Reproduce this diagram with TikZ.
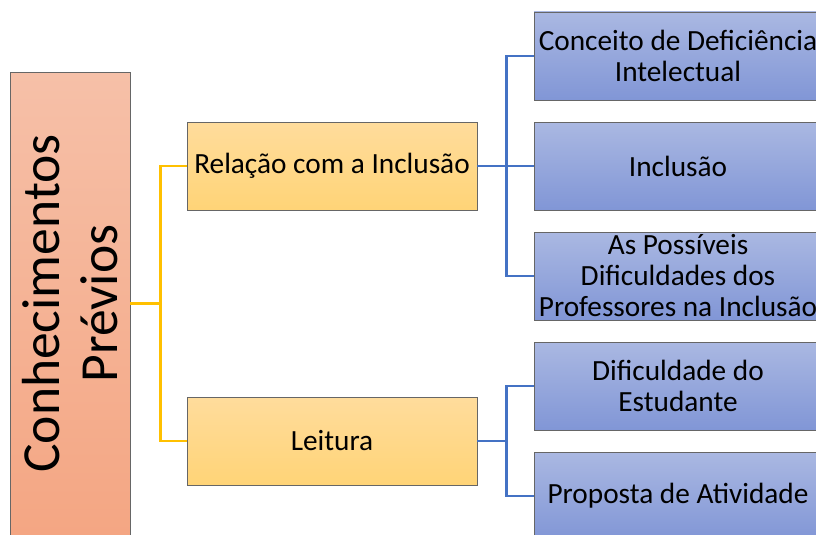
\documentclass[tikz,border=0pt]{standalone}
\usepackage{fontspec}
\setmainfont{Carlito}
\usepackage{tikz}
\usetikzlibrary{calc}
\definecolor{salmontop}{RGB}{246,192,168}
\definecolor{salmonbot}{RGB}{244,166,131}
\definecolor{goldtop}{RGB}{255,220,156}
\definecolor{goldbot}{RGB}{255,212,119}
\definecolor{bluetop}{RGB}{170,184,226}
\definecolor{bluebot}{RGB}{129,150,214}
\definecolor{goldline}{RGB}{255,192,0}
\definecolor{blueline}{RGB}{68,114,196}
\tikzset{
	% three box styles, one per level of the diagram
	root box/.style={draw=black!60,line width=0.9pt,top color=salmontop,bottom color=salmonbot,minimum width=120pt,minimum height=463pt,inner sep=0},
	mid box/.style={draw=black!60,line width=0.9pt,top color=goldtop,bottom color=goldbot,minimum width=290pt,minimum height=88pt,inner sep=0,font=\fontsize{29.3}{32}\selectfont},
	leaf box/.style={draw=black!60,line width=0.9pt,top color=bluetop,bottom color=bluebot,minimum width=288pt,minimum height=88pt,inner sep=0,align=center,font=\fontsize{29.3}{31}\selectfont},
	gold link/.style={draw=goldline,line width=2.6pt},
	blue link/.style={draw=blueline,line width=2.6pt}
}
\begin{document}
\begin{tikzpicture}[x=1pt,y=-1pt]
	\useasboundingbox (0,0) rectangle (816,535);
	% root
	\node(root)[root box] at (70,303.5){};
	\node(roottext)[rotate=90,align=center,font=\fontsize{53.6}{58}\selectfont] at (root.center){Conhecimentos\\Prévios};
	% second level
	\node(rel)[mid box] at (332,166){Relação com a Inclusão};
	\node(lei)[mid box] at (332,441){Leitura};
	% leaves
	\node(conc)[leaf box] at (678,56){Conceito de Deficiência\\Intelectual};
	\node(incl)[leaf box] at (678,166){Inclusão};
	\node(prof)[leaf box] at (678,276){As Possíveis\\Dificuldades dos\\Professores na Inclusão};
	\node(est)[leaf box] at (678,386){Dificuldade do\\Estudante};
	\node(prop)[leaf box] at (678,496){Proposta de Atividade};
	% connectors
	\draw[gold link](root.east)--++(30,0)|-(rel.west);
	\draw[gold link](root.east)--++(30,0)|-(lei.west);
	\draw[blue link](rel.east)--++(29,0)|-(conc.west);
	\draw[blue link](rel.east)--(incl.west);
	\draw[blue link](rel.east)--++(29,0)|-(prof.west);
	\draw[blue link](lei.east)--++(29,0)|-(est.west);
	\draw[blue link](lei.east)--++(29,0)|-(prop.west);
\end{tikzpicture}
\end{document}
